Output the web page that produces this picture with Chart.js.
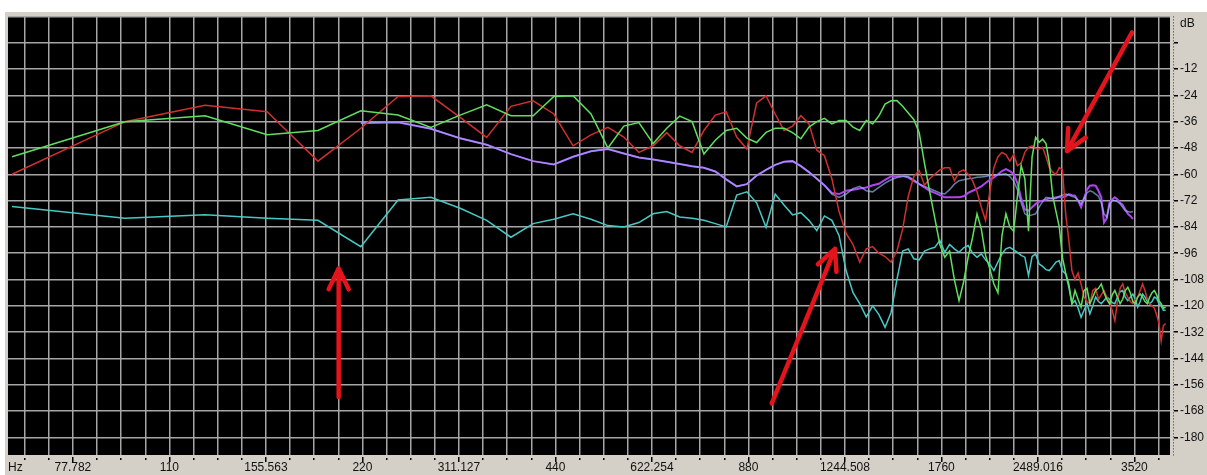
<!DOCTYPE html>
<html lang="en">
<head>
  <meta charset="UTF-8" />
  <title>Spectrum</title>
  <script src="https://cdn.jsdelivr.net/npm/chart.js@4"></script>
  <style>
    body {
      margin: 0;
      background: #fff;
      overflow: hidden;
    }
    canvas {
      display: block;
    }
  </style>
</head>
<body>
  <canvas id="spectrum" width="1207" height="475"></canvas>

  <script>
    // FFT bin centres (Hz)
    const binHz = [
      62.5, 93.75, 125, 156.25, 187.5, 218.75, 250, 281.25, 312.5, 343.75,
      375, 406.25, 437.5, 468.75, 500, 531.25, 562.5, 593.75, 625, 656.25,
      687.5, 718.75, 750, 781.25, 812.5, 843.75, 875, 906.25, 937.5, 968.75,
      1000, 1031.25, 1062.5, 1093.75, 1125, 1156.25, 1187.5, 1218.75, 1250, 1281.25,
      1312.5, 1343.75, 1375, 1406.25, 1437.5, 1468.75, 1500, 1531.25, 1562.5, 1593.75,
      1625, 1656.25, 1687.5, 1718.75, 1750, 1781.25, 1812.5, 1843.75, 1875, 1906.25,
      1937.5, 1968.75, 2000, 2031.25, 2062.5, 2093.75, 2125, 2156.25, 2187.5, 2218.75,
      2250, 2281.25, 2312.5, 2343.75, 2375, 2406.25, 2437.5, 2468.75, 2500, 2531.25,
      2562.5, 2593.75, 2625, 2656.25, 2687.5, 2718.75, 2750, 2781.25, 2812.5, 2843.75,
      2875, 2906.25, 2937.5, 2968.75, 3000, 3031.25, 3062.5, 3093.75, 3125, 3156.25,
      3187.5, 3218.75, 3250, 3281.25, 3312.5, 3343.75, 3375, 3406.25, 3437.5, 3468.75,
      3500, 3531.25, 3562.5, 3593.75, 3625, 3656.25, 3687.5, 3718.75, 3750, 3781.25,
      3812.5, 3843.75, 3875, 3906.25, 3937.5
    ];

    // levels in dB, one value per bin
    const redDb = [
      -60, -36, -28.5, -31.5, -54, -39, -24.5, -24.2, -34, -43.2,
      -29, -26.5, -32.5, -47, -42, -38.6, -43, -50, -47, -41,
      -47, -50, -40, -33, -31.5, -43, -48.5, -27.5, -24.2, -32.5,
      -40, -38, -33.3, -37, -49, -51.5, -62, -77, -87, -92,
      -100, -94, -93, -96, -97.5, -100, -95, -85, -70, -61,
      -58.3, -65, -62, -60, -58, -57, -57, -62.9, -59, -58,
      -60, -63, -68, -75, -81, -68, -57, -52, -50, -51,
      -54, -51, -56, -55, -50, -47.7, -47, -48.3, -48.5, -47.7,
      -52, -57, -59, -60, -57, -58, -78, -90, -104, -108,
      -105, -110, -116, -118, -119, -113, -112, -117, -115, -113,
      -116, -119, -122, -126.7, -118, -112, -110, -114, -116, -118,
      -119, -117, -116, -113, -110, -113, -117, -119, -120, -121,
      -124, -128, -136, -129, -128
    ];
    const greenDb = [
      -52, -36, -33.3, -42, -40, -31, -33, -38.6, -33, -28.3,
      -33.3, -33.3, -24.5, -24.2, -32.5, -48, -38, -36.4, -46, -39,
      -33.5, -36, -50.7, -44.5, -40, -39, -43.5, -45.5, -40.9, -39,
      -39, -41, -43.8, -38.5, -36, -34.5, -37, -35.5, -35.5, -38.5,
      -40, -35.5, -37, -33.3, -28, -26.5, -26.4, -29, -32, -35,
      -41, -55, -68, -80, -92, -97.8, -95, -108, -117.6, -109,
      -97.8, -88.7, -78, -85, -97, -103, -110, -114, -88, -78,
      -84, -86, -70, -56, -62, -86, -52, -43.2, -45.4, -44,
      -46, -55, -70, -77, -84, -98, -105, -110, -119, -113,
      -117, -120.6, -113, -112, -119, -116, -113, -112, -110, -114,
      -117, -119, -115, -113, -116, -119, -117, -113, -111.5, -114,
      -118, -119, -116, -114.6, -116, -118, -119, -116, -114, -113,
      -115, -117.6, -119, -121, -120.6
    ];
    const magentaDb = [
      null, null, null, null, null, -36.6, -36.3, -39.2, -43.6, -46.5,
      -50.8, -54, -55.5, -52, -49.5, -48.5, -50.5, -52.3, -53.3, -54.3,
      -55.3, -56.3, -57, -58.7, -62.3, -65.5, -64.5, -60.6, -58, -55.7,
      -54.3, -54, -56.3, -59, -62, -65, -68.5, -69, -67.5, -67,
      -66.5, -66, -65, -64.3, -62.5, -61, -61, -60.6, -61.5, -63,
      -64.5, -66, -67.5, -68.5, -69.5, -70.5, -70.5, -70.5, -70.5, -70,
      -68.5, -67.5, -66.5, -65.5, -64, -62.5, -61.4, -60, -58.5, -57.6,
      -58.5, -59.8, -64, -71, -76, -76.6, -75, -73.5, -72.5, -72,
      -71.5, -71, -71, -70.5, -70.5, -70.5, -70, -69, -69.5, -69.7,
      -72, -75, -71, -67, -65.2, -65, -65.2, -67.5, -70.5, -82,
      -80, -73, -71.5, -70.5, -71.5, -73, -74, -76, -78, -79,
      -80.3, null, null, null, null, null, null, null, null, null,
      null, null, null, null, null
    ];
    const blueDb = [
      null, null, null, null, null, -36.6, -36.3, -39.2, -43.6, -46.5,
      -50.8, -54, -55.5, -52, -49.5, -48.5, -50.5, -52.3, -53.3, -54.3,
      -55.3, -56.3, -57, -58.7, -62.3, -65.5, -64.5, -60.6, -58, -55.7,
      -54.3, -54, -56.3, -59, -62, -65, -69, -70.5, -69, -66.5,
      -65.5, -67.5, -68, -66, -64, -62.5, -61.5, -61, -61, -62.5,
      -64.4, -65.5, -66.5, -67.5, -68.5, -69, -67, -64.5, -62.9, -62.5,
      -62, -61.8, -61.4, -61.2, -61, -60.6, -60.4, -60.2, -60, -59.8,
      -61, -63, -67, -73, -78, -79, -78.5, -78, -75, -72.5,
      -70.5, -70.8, -71, -71, -70, -69.5, -69, -69.5, -70, -70.5,
      -72, -73.5, -71, -68.5, -67.5, -68, -69, -70, -73, -78,
      -79.6, -74, -72, -72, -72.5, -73.5, -75, -76.6, -77, -77.3,
      -77, null, null, null, null, null, null, null, null, null,
      null, null, null, null, null
    ];
    const cyanDb = [
      -74.7, -80, -78.5, -80, -81, -93, -71.7, -70.5, -75.5, -81,
      -88.7, -82.5, -80.5, -78, -80.5, -83.4, -84, -82, -78, -77,
      -79.5, -80, -81, -82.5, -84, -69.5, -68, -73, -84.2, -69,
      -74, -78.5, -77.5, -81, -85.7, -79, -81, -88, -104, -114,
      -119, -125, -120, -124, -129.8, -123, -108, -95, -94, -98.5,
      -99, -95, -94, -93.3, -90.2, -95.6, -92, -94, -95.6, -93.5,
      -92.5, -96, -97.8, -96.3, -99, -101, -103.9, -100, -96.3, -94,
      -93.3, -94.5, -95.6, -97, -97.8, -106.2, -97.5, -96.3, -100.9, -102,
      -103.5, -103.9, -102, -100, -99.4, -104, -105.4, -111.5, -119, -117.6,
      -121, -125.2, -122, -119, -123.6, -120, -116, -118, -119, -117.5,
      -116, -117, -118.5, -119, -116, -113.5, -113, -116, -117.6, -116,
      -114.6, -117, -120.6, -118, -114.6, -116, -118, -119, -118, -116,
      -116.5, -119, -120, -122, -122
    ];

    // labelled frequencies on the bottom axis (half-octave steps)
    const xTickHz = [77.782, 110, 155.563, 220, 311.127, 440, 622.254, 880, 1244.508, 1760, 2489.016, 3520];
    const xTickLabels = ['77.782', '110', '155.563', '220', '311.127', '440', '622.254', '880', '1244.508', '1760', '2489.016', '3520'];
    const dbTicks = [12, 0, -12, -24, -36, -48, -60, -72, -84, -96, -108, -120, -132, -144, -156, -168, -180];

    // red marker arrows: [Hz, dB] tail -> tip
    const arrows = [
      { from: [202, -161.5], to: [202, -103] },
      { from: [957, -164.5], to: [1201, -94] },
      { from: [3490, 4.7], to: [2763, -49.4] }
    ];

    // grid every 1/8 octave, relative to A440
    const gridHz = [];
    for (let n = -22; n <= 25; n++) gridHz.push(440 * Math.pow(2, n / 8));

    const FONT = '"Liberation Sans", Arial, sans-serif';
    const PANEL = '#d4d0c8';
    const GRID = '#a6a6a6';

    function series(values) {
      return binHz.map((f, i) => ({ x: f, y: values[i] }));
    }

    const panelBackground = {
      id: 'panelBackground',
      beforeDraw(chart) {
        const { ctx, chartArea: a, width, height } = chart;
        ctx.save();
        ctx.fillStyle = '#fff';
        ctx.fillRect(0, 0, width, height);
        ctx.fillStyle = PANEL;
        ctx.fillRect(5, 12, width - 5, height - 12);
        ctx.fillStyle = '#000';
        ctx.fillRect(a.left, a.top, a.right - a.left, a.bottom - a.top);
        ctx.restore();
      },
      afterDraw(chart) {
        // dotted rule down the dB scale
        const { ctx, chartArea: a } = chart;
        ctx.save();
        ctx.strokeStyle = '#333';
        ctx.lineWidth = 1;
        ctx.setLineDash([1, 2]);
        ctx.beginPath();
        ctx.moveTo(a.right + 3.5, a.top);
        ctx.lineTo(a.right + 3.5, a.bottom + 2);
        ctx.stroke();
        ctx.restore();
      }
    };

    const markerArrows = {
      id: 'markerArrows',
      afterDatasetsDraw(chart) {
        const { ctx, scales: { x, y } } = chart;
        ctx.save();
        ctx.strokeStyle = '#e3141c';
        ctx.lineWidth = 4.5;
        ctx.lineCap = 'round';
        ctx.lineJoin = 'round';
        arrows.forEach(a => {
          const x0 = x.getPixelForValue(a.from[0]), y0 = y.getPixelForValue(a.from[1]);
          const x1 = x.getPixelForValue(a.to[0]), y1 = y.getPixelForValue(a.to[1]);
          const ang = Math.atan2(y0 - y1, x0 - x1);
          const len = 23, spread = 0.45;
          ctx.beginPath();
          ctx.moveTo(x0, y0);
          ctx.lineTo(x1, y1);
          ctx.moveTo(x1 + len * Math.cos(ang - spread), y1 + len * Math.sin(ang - spread));
          ctx.lineTo(x1, y1);
          ctx.lineTo(x1 + len * Math.cos(ang + spread), y1 + len * Math.sin(ang + spread));
          ctx.stroke();
        });
        ctx.restore();
      }
    };

    new Chart(document.getElementById('spectrum'), {
      type: 'line',
      data: {
        datasets: [
          { data: series(greenDb), borderColor: '#5ee05e' },
          { data: series(redDb), borderColor: '#d03030' },
          { data: series(cyanDb), borderColor: '#48c8c4' },
          { data: series(blueDb), borderColor: 'rgba(150,190,255,0.65)' },
          { data: series(magentaDb), borderColor: '#b044f0', borderWidth: 2 }
        ]
      },
      options: {
        responsive: false,
        animation: false,
        devicePixelRatio: 1,
        layout: { padding: { left: 8, top: 15, right: 0, bottom: 0 } },
        elements: {
          point: { radius: 0 },
          line: { tension: 0, borderWidth: 1.5 }
        },
        plugins: {
          legend: { display: false },
          tooltip: { enabled: false }
        },
        scales: {
          x: {
            type: 'logarithmic',
            min: 61.6,
            max: 4000,
            afterBuildTicks(scale) {
              scale.ticks = gridHz.map(v => ({ value: v }));
            },
            afterFit(scale) { scale.height = 20; },
            grid: {
              color: GRID,
              lineWidth: 1.5,
              tickLength: 7,
              tickColor: '#000',
              tickBorderDash: ctx => (ctx.tick && ctx.tick.label) ? [0, 2, 5, 100] : [0, 3, 2, 100]
            },
            border: { display: false },
            ticks: {
              autoSkip: false,
              maxRotation: 0,
              minRotation: 0,
              padding: 0,
              color: '#111',
              font: { family: FONT, size: 12, lineHeight: 1 },
              callback(value) {
                const i = xTickHz.findIndex(f => Math.abs(f - value) / f < 0.001);
                return i < 0 ? '' : xTickLabels[i];
              }
            },
            title: {
              display: true,
              text: 'Hz',
              align: 'start',
              color: '#111',
              font: { family: FONT, size: 12, lineHeight: 1 },
              padding: { top: 0, bottom: 1 }
            }
          },
          y: {
            type: 'linear',
            position: 'right',
            min: -188,
            max: 12,
            afterBuildTicks(scale) {
              scale.ticks = dbTicks.slice().reverse().map(v => ({ value: v }));
            },
            afterFit(scale) { scale.width = 37; },
            grid: {
              color: GRID,
              lineWidth: 1.5,
              tickLength: 8,
              tickColor: ctx => (ctx.tick && ctx.tick.value === 12) ? 'rgba(0,0,0,0)' : '#000',
              tickBorderDash: [0, 4, 4, 100]
            },
            border: { display: false },
            ticks: {
              autoSkip: false,
              padding: 2,
              color: '#111',
              font: { family: FONT, size: 12 },
              callback(value) {
                if (value === 12) return ['', 'dB'];
                if (value === 0) return '';
                return String(value);
              }
            }
          }
        }
      },
      plugins: [panelBackground, markerArrows]
    });
  </script>
</body>
</html>
